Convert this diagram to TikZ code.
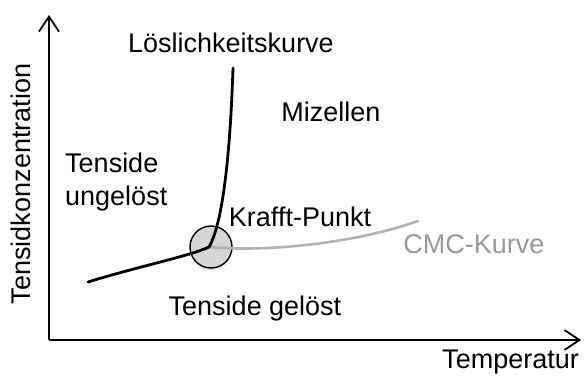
\documentclass[tikz,border=0pt]{standalone}
\usepackage{fontspec}
\setmainfont{Liberation Sans}
\usetikzlibrary{arrows.meta,shadows}
\begin{document}
\begin{tikzpicture}[x=1pt,y=-1pt,
  lbl/.style={inner sep=0pt,font=\fontsize{27}{32}\selectfont},
  axis/.style={line width=1.8pt,-{Straight Barb[length=15pt,width=20pt,line width=1.8pt]}},
  curve/.style={line width=2.8pt,line cap=round},
  cmc/.style={line width=2.6pt,color=black!30,line cap=round}]
\useasboundingbox (0,0) rectangle (584,379);
\coordinate (o) at (49,340);
\coordinate (ytop) at (49,15);
\coordinate (xend) at (581,340);
\draw[axis] (o) -- (ytop);
\draw[axis] (o) -- (xend);
\coordinate (start) at (88,282);
\coordinate (kp) at (209,247);
\coordinate (top) at (233,68);
\coordinate (cmcend) at (418,221);
\node[circle,draw=black,line width=1.4pt,fill=black!16,minimum size=42pt,inner sep=0pt,
  drop shadow={opacity=0.25,shadow xshift=0pt,shadow yshift=-2pt}] (krafft) at (211,247) {};
\draw[cmc] (kp) .. controls (260,252) and (350,245) .. (cmcend);
\draw[curve] (start) .. controls (140,266) and (190,256) .. (kp)
  .. controls (222,225) and (230,160) .. (top);
\node[lbl] (loes) at (231,43) {Löslichkeitskurve};
\node[lbl] (miz) at (331,112) {Mizellen};
\node[lbl,align=left,anchor=west] (tu) at (65,182) {Tenside\\[1pt]ungelöst};
\node[lbl] (kpt) at (300,217) {Krafft-Punkt};
\node[lbl,text=black!40] (cmct) at (474,244) {CMC-Kurve};
\node[lbl] (tg) at (255,309) {Tenside gelöst};
\node[lbl,anchor=east] (temp) at (579,362) {Temperatur};
\node[lbl,rotate=90] (konz) at (21,184) {Tensidkonzentration};
\end{tikzpicture}
\end{document}
